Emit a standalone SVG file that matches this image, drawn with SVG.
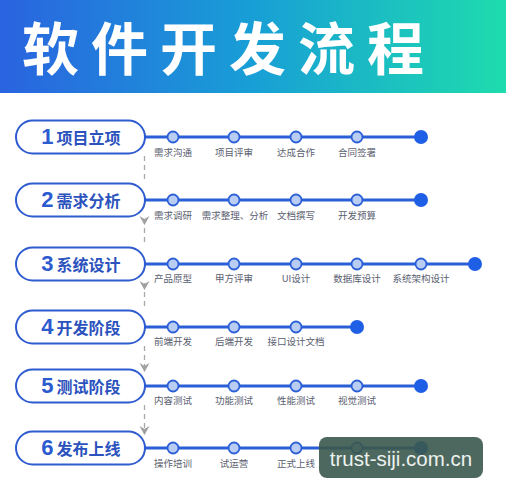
<svg xmlns="http://www.w3.org/2000/svg" width="506" height="500" viewBox="0 0 506 500">
<defs>
<linearGradient id="hdr" x1="0" y1="0" x2="1" y2="0">
<stop offset="0" stop-color="#2a63e0"/>
<stop offset="0.5" stop-color="#189fd6"/>
<stop offset="1" stop-color="#1edcad"/>
</linearGradient>
<path id="arr" d="M0,0 L-5,-9 L0,-6 L5,-9 Z"/>
</defs>
<style>
.pill{fill:#fff;stroke:#2f5bd0;stroke-width:2}
.num{font-family:"Liberation Sans",Arial,sans-serif;font-weight:bold;font-size:22px;fill:#2c5bd0}
.cn{font-family:"Noto Sans CJK SC",sans-serif;font-weight:bold;font-size:16px;fill:#2b52bd}
.ln{stroke:#2b5fd8;stroke-width:3;fill:none}
.dot{fill:#b9cdf3;stroke:#2b5fd8;stroke-width:1.8}
.end{fill:#1f5fe6}
.lbl{font-family:"Noto Sans CJK SC",sans-serif;font-size:9.5px;fill:#5a6070;text-anchor:middle}
.dash{stroke:#a8a8a8;stroke-width:1.3;stroke-dasharray:5 4;fill:none}
.ah{fill:#a0a0a0}
</style>
<rect width="506" height="500" fill="#fff"/>
<g id="header">
<rect x="0" y="0" width="506" height="93" fill="url(#hdr)"/>
<text x="22" y="70" font-family="Noto Sans CJK SC,sans-serif" font-weight="bold" font-size="57" letter-spacing="12" fill="#fff">软件开发流程</text>
</g>
<g id="connectors">
<line class="dash" x1="144.5" y1="156" x2="144.5" y2="182"/>
<line class="dash" x1="144.5" y1="219" x2="144.5" y2="245"/>
<use href="#arr" class="ah" x="144.5" y="225"/>
<line class="dash" x1="144.5" y1="283" x2="144.5" y2="308"/>
<use href="#arr" class="ah" x="144.5" y="290"/>
<line class="dash" x1="144.5" y1="346" x2="144.5" y2="366"/>
<use href="#arr" class="ah" x="144.5" y="372"/>
<line class="dash" x1="144.5" y1="405" x2="144.5" y2="430"/>
<use href="#arr" class="ah" x="144.5" y="435"/>
</g>
<g id="stage1">
<line class="ln" x1="145" y1="137" x2="421" y2="137"/>
<rect class="pill" x="16" y="120.5" width="129" height="33" rx="16.5"/>
<text x="81" y="144" text-anchor="middle"><tspan class="num">1</tspan><tspan class="cn" dx="3">项目立项</tspan></text>
<circle class="dot" cx="173" cy="137" r="5.5"/><circle class="dot" cx="234" cy="137" r="5.5"/><circle class="dot" cx="296" cy="137" r="5.5"/><circle class="dot" cx="357" cy="137" r="5.5"/><circle class="end" cx="421" cy="137" r="7"/>
<text class="lbl" x="173" y="156">需求沟通</text><text class="lbl" x="234" y="156">项目评审</text><text class="lbl" x="296" y="156">达成合作</text><text class="lbl" x="357" y="156">合同签署</text>
</g>
<g id="stage2">
<line class="ln" x1="145" y1="200" x2="421" y2="200"/>
<rect class="pill" x="16" y="183.5" width="129" height="33" rx="16.5"/>
<text x="81" y="207" text-anchor="middle"><tspan class="num">2</tspan><tspan class="cn" dx="3">需求分析</tspan></text>
<circle class="dot" cx="173" cy="200" r="5.5"/><circle class="dot" cx="234" cy="200" r="5.5"/><circle class="dot" cx="296" cy="200" r="5.5"/><circle class="dot" cx="357" cy="200" r="5.5"/><circle class="end" cx="421" cy="200" r="7"/>
<text class="lbl" x="173" y="219">需求调研</text><text class="lbl" x="235" y="219">需求整理、分析</text><text class="lbl" x="296" y="219">文档撰写</text><text class="lbl" x="357" y="219">开发预算</text>
</g>
<g id="stage3">
<line class="ln" x1="145" y1="264" x2="475" y2="264"/>
<rect class="pill" x="16" y="247.5" width="129" height="33" rx="16.5"/>
<text x="81" y="271" text-anchor="middle"><tspan class="num">3</tspan><tspan class="cn" dx="3">系统设计</tspan></text>
<circle class="dot" cx="173" cy="264" r="5.5"/><circle class="dot" cx="234" cy="264" r="5.5"/><circle class="dot" cx="296" cy="264" r="5.5"/><circle class="dot" cx="357" cy="264" r="5.5"/><circle class="dot" cx="421" cy="264" r="5.5"/><circle class="end" cx="475" cy="264" r="7"/>
<text class="lbl" x="173" y="282">产品原型</text><text class="lbl" x="234" y="282">甲方评审</text><text class="lbl" x="296" y="282">UI设计</text><text class="lbl" x="357" y="282">数据库设计</text><text class="lbl" x="421" y="282">系统架构设计</text>
</g>
<g id="stage4">
<line class="ln" x1="145" y1="327" x2="357" y2="327"/>
<rect class="pill" x="16" y="310.5" width="129" height="33" rx="16.5"/>
<text x="81" y="334" text-anchor="middle"><tspan class="num">4</tspan><tspan class="cn" dx="3">开发阶段</tspan></text>
<circle class="dot" cx="173" cy="327" r="5.5"/><circle class="dot" cx="234" cy="327" r="5.5"/><circle class="dot" cx="296" cy="327" r="5.5"/><circle class="end" cx="357" cy="327" r="7"/>
<text class="lbl" x="173" y="345">前端开发</text><text class="lbl" x="234" y="345">后端开发</text><text class="lbl" x="296" y="345">接口设计文档</text>
</g>
<g id="stage5">
<line class="ln" x1="145" y1="386" x2="421" y2="386"/>
<rect class="pill" x="16" y="369.5" width="129" height="33" rx="16.5"/>
<text x="81" y="393" text-anchor="middle"><tspan class="num">5</tspan><tspan class="cn" dx="3">测试阶段</tspan></text>
<circle class="dot" cx="173" cy="386" r="5.5"/><circle class="dot" cx="234" cy="386" r="5.5"/><circle class="dot" cx="296" cy="386" r="5.5"/><circle class="dot" cx="357" cy="386" r="5.5"/><circle class="end" cx="421" cy="386" r="7"/>
<text class="lbl" x="173" y="404">内容测试</text><text class="lbl" x="234" y="404">功能测试</text><text class="lbl" x="296" y="404">性能测试</text><text class="lbl" x="357" y="404">视觉测试</text>
</g>
<g id="stage6">
<line class="ln" x1="145" y1="448" x2="421" y2="448"/>
<rect class="pill" x="16" y="431.5" width="129" height="33" rx="16.5"/>
<text x="81" y="455" text-anchor="middle"><tspan class="num">6</tspan><tspan class="cn" dx="3">发布上线</tspan></text>
<circle class="dot" cx="173" cy="448" r="5.5"/><circle class="dot" cx="234" cy="448" r="5.5"/><circle class="dot" cx="296" cy="448" r="5.5"/><circle class="dot" cx="357" cy="448" r="5.5"/><circle class="end" cx="421" cy="448" r="7"/>
<text class="lbl" x="173" y="467">操作培训</text><text class="lbl" x="234" y="467">试运营</text><text class="lbl" x="296" y="467">正式上线</text>
</g>
<g id="watermark">
<rect x="319" y="437" width="164" height="41" rx="8" fill="#3a584c" opacity="0.9"/>
<text x="401" y="466" text-anchor="middle" font-family="Liberation Sans,Arial,sans-serif" font-size="20.5" fill="#eef2ef">trust-siji.com.cn</text>
</g>
</svg>
